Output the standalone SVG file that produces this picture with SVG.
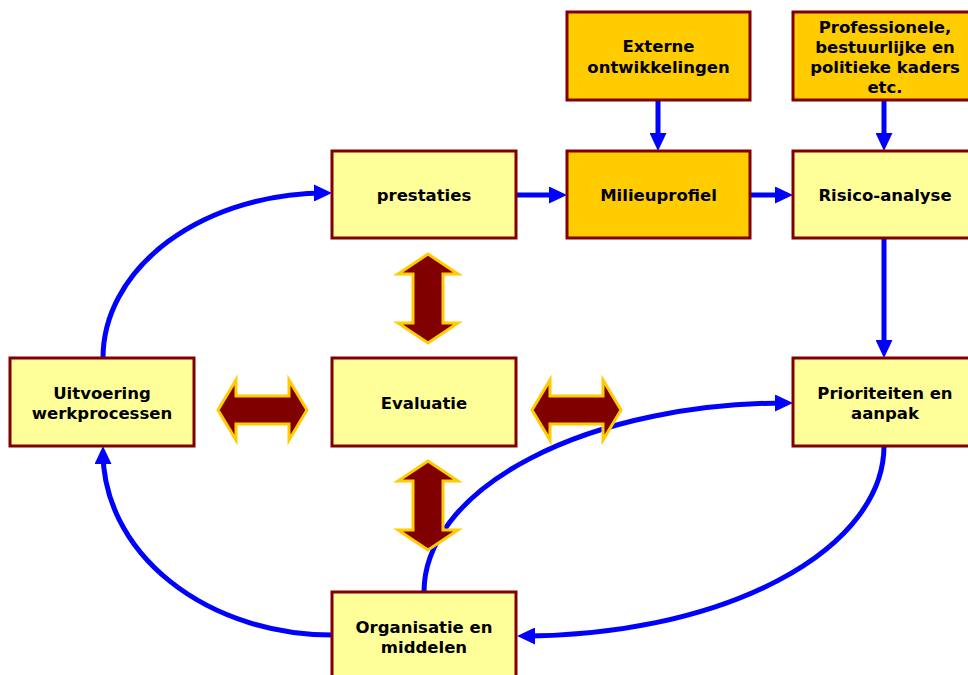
<svg xmlns="http://www.w3.org/2000/svg" width="968" height="675" viewBox="0 0 968 675">
<style>
.box{stroke:#800000;stroke-width:3}
.y{fill:#FFFF99}
.o{fill:#FFCC00}
.t{font-family:"DejaVu Sans","Verdana",sans-serif;font-weight:bold;font-size:16.5px;fill:#000;text-anchor:middle}
.c{fill:none;stroke:#0000FF;stroke-width:5}
.da{fill:#800000;stroke:#FFCC00;stroke-width:3;stroke-linejoin:miter}
</style>
<defs>
<marker id="ah" markerUnits="userSpaceOnUse" markerWidth="18" markerHeight="17" viewBox="0 0 18 17" refX="12" refY="8.5" orient="auto">
<path d="M0,0 L18,8.5 L0,17 z" fill="#0000FF"/>
</marker>
</defs>
<rect width="968" height="675" fill="#FFFFFF"/>
<g id="connectors">
<path class="c" d="M658,100 L658,145" marker-end="url(#ah)"/>
<path class="c" d="M884,100 L884,145" marker-end="url(#ah)"/>
<path class="c" d="M516,195 L561,195" marker-end="url(#ah)"/>
<path class="c" d="M750,195 L787,195" marker-end="url(#ah)"/>
<path class="c" d="M884,238 L884,352" marker-end="url(#ah)"/>
<path class="c" d="M103,358 A223,165 0 0 1 326,193" marker-end="url(#ah)"/>
<path class="c" d="M332,635 A229,183 0 0 1 103,452" marker-end="url(#ah)"/>
<path class="c" d="M424,592 A363,189 0 0 1 787,403" marker-end="url(#ah)"/>
<path class="c" d="M884,446 A361,190 0 0 1 523,636" marker-end="url(#ah)"/>
</g>
<g id="evaluation-arrows">
<polygon class="da" points="428,254 458,274 443,274 443,323 458,323 428,343 398,323 413,323 413,274 398,274"/>
<polygon class="da" points="428,461 458,481 443,481 443,530 458,530 428,550 398,530 413,530 413,481 398,481"/>
<polygon class="da" points="218,410 236,380 236,396 289,396 289,380 307,410 289,440 289,424 236,424 236,440"/>
<polygon class="da" points="532,410 550,380 550,396 603,396 603,380 621,410 603,440 603,424 550,424 550,440"/>
</g>
<g id="externe">
<rect class="box o" x="567" y="12" width="183" height="88"/>
<text class="t" x="658.5" y="52">Externe</text>
<text class="t" x="658.5" y="73">ontwikkelingen</text>
</g>
<g id="professionele">
<rect class="box o" x="793" y="12" width="184" height="88"/>
<text class="t" x="885" y="33">Professionele,</text>
<text class="t" x="885" y="53">bestuurlijke en</text>
<text class="t" x="885" y="73">politieke kaders</text>
<text class="t" x="885" y="93">etc.</text>
</g>
<g id="prestaties">
<rect class="box y" x="332" y="151" width="184" height="87"/>
<text class="t" x="424" y="201">prestaties</text>
</g>
<g id="milieuprofiel">
<rect class="box o" x="567" y="151" width="183" height="87"/>
<text class="t" x="658.5" y="201">Milieuprofiel</text>
</g>
<g id="risico">
<rect class="box y" x="793" y="151" width="184" height="87"/>
<text class="t" x="885" y="201">Risico-analyse</text>
</g>
<g id="uitvoering">
<rect class="box y" x="10" y="358" width="184" height="88"/>
<text class="t" x="102" y="399">Uitvoering</text>
<text class="t" x="102" y="419">werkprocessen</text>
</g>
<g id="evaluatie">
<rect class="box y" x="332" y="358" width="184" height="88"/>
<text class="t" x="424" y="409">Evaluatie</text>
</g>
<g id="prioriteiten">
<rect class="box y" x="793" y="358" width="184" height="88"/>
<text class="t" x="885" y="399">Prioriteiten en</text>
<text class="t" x="885" y="419">aanpak</text>
</g>
<g id="organisatie">
<rect class="box y" x="332" y="592" width="184" height="90"/>
<text class="t" x="424" y="633">Organisatie en</text>
<text class="t" x="424" y="653">middelen</text>
</g>
</svg>
